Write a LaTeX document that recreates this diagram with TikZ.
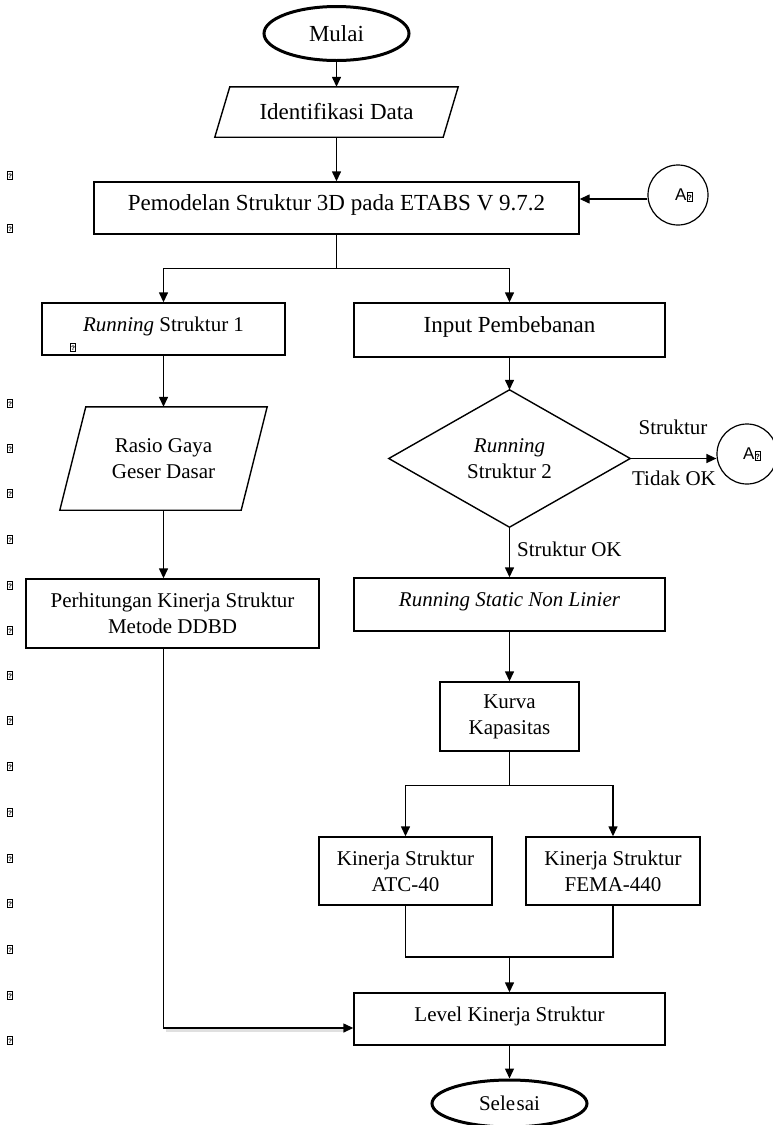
\documentclass[tikz,border=0pt]{standalone}
\usepackage{fontspec}
\setmainfont{Liberation Serif}
\newfontfamily\sansA{Liberation Sans}
\usetikzlibrary{arrows.meta,shapes.geometric}
\newcommand{\qbox}[1]{{\sansA\bfseries\setlength{\fboxsep}{0.2pt}\setlength{\fboxrule}{0.6pt}\fbox{\fontsize{#1}{#1}\selectfont\rule{0pt}{1.05em}?}}}
\begin{document}
\begin{tikzpicture}[x=1pt,y=-1pt,
  every node/.style={font=\fontsize{21}{26}\selectfont, inner sep=0pt},
  big/.style={font=\fontsize{23}{27}\selectfont},
  box/.style={draw, line width=1.4pt, align=center},
  one/.style={text height=15pt, text depth=11pt},
  term/.style={ellipse, draw, line width=3pt},
  con/.style={circle, draw, line width=1.2pt, minimum size=60pt, font=\sansA\fontsize{17}{17}\selectfont},
  conn/.style={line width=1.4pt},
  arr/.style={line width=1.4pt, -{Triangle[length=10pt,width=9pt]}},
  lbl/.style={font=\fontsize{21}{26}\selectfont}
]
\useasboundingbox (0,0) rectangle (773,1125);

% left column of missing-glyph marks
\foreach \yy [count=\i] in {175,228.5,403.5,448.5,493.5,539.5,585.5,630.5,675.5,720.5,766.5,812.5,858.5,903.5,949.5,995.5,1040.5}
  \node (q\i) at (10,\yy) {\qbox{6.5}};

% start
\node[term, big, minimum width=145pt, minimum height=54pt] (start) at (336.5,33.5) {Mulai};

% identifikasi data (parallelogram)
\node[big, minimum width=228pt, minimum height=50pt] (ident) at (336.5,112) {Identifikasi Data};
\draw[conn] ([xshift=7.5pt]ident.north west) -- ([xshift=7.5pt]ident.north east)
  -- ([xshift=-7.5pt]ident.south east) -- ([xshift=-7.5pt]ident.south west) -- cycle;
\draw[arr] (start.south) -- (ident.north);

% pemodelan
\node[box, big, one, minimum width=485pt, minimum height=52pt] (model) at (336.5,208) {Pemodelan Struktur 3D pada ETABS V 9.7.2};
\draw[arr] (ident.south) -- (model.north);

% connector A (top)
\node[con] (a1) at (678,195) {\kern12pt A\qbox{7.5}};
\draw[arr] ([yshift=-4pt]a1.west) -- ([yshift=-4pt]a1.west -| model.east);

% running struktur 1
\node[box, one, minimum width=243pt, minimum height=52pt] (run1) at (163.5,329) {\textit{Running} Struktur 1};
\node (qin) at (73,347) {\qbox{6.5}};

% input pembebanan
\node[box, big, one, minimum width=311pt, minimum height=54pt] (input) at (509.5,330) {Input Pembebanan};

% branch
\coordinate (b1) at ([yshift=-34pt]model.south);
\draw[conn] (model.south) -- (b1);
\draw[arr] (b1) -| (run1.north);
\draw[arr] (b1) -| (input.north);

% rasio gaya geser dasar (parallelogram)
\node[minimum width=181pt, minimum height=103pt, align=center] (rasio) at (163.5,458.5) {Rasio Gaya\\Geser Dasar};
\draw[conn] ([xshift=13pt]rasio.north west) -- ([xshift=13pt]rasio.north east)
  -- ([xshift=-13pt]rasio.south east) -- ([xshift=-13pt]rasio.south west) -- cycle;
\draw[arr] (run1.south) -- (rasio.north);

% perhitungan
\node[box, minimum width=293pt, minimum height=69pt] (perh) at (172.5,613.5) {Perhitungan Kinerja Struktur\\Metode DDBD};
\draw[arr] (rasio.south) -- (rasio.south |- perh.north);

% decision
\node[minimum width=241pt, minimum height=137pt, align=center] (dec) at (509.5,458.5) {\textit{Running}\\Struktur 2};
\draw[conn] (dec.north) -- (dec.east) -- (dec.south) -- (dec.west) -- cycle;
\draw[arr] (input.south) -- (dec.north);

% connector A (right)
\node[con] (a2) at (747,454) {\kern10pt A\qbox{7.5}};
\draw[arr] (dec.east) -- (dec.east -| a2.west);
\node[lbl] (lt1) at (673,427) {Struktur};
\node[lbl] (lt2) at (674,478) {Tidak OK};

% running static
\node[box, one, minimum width=311pt, minimum height=53pt] (static) at (509.5,604.5) {\textit{Running Static Non Linier}};
\draw[arr] (dec.south) -- (static.north);
\node[lbl, anchor=west] (lok) at (517,549) {Struktur OK};

% kurva kapasitas
\node[box, minimum width=139pt, minimum height=69pt] (kurva) at (509.5,716.5) {Kurva\\Kapasitas};
\draw[arr] (static.south) -- (kurva.north);

% kinerja boxes
\node[box, minimum width=173pt, minimum height=68pt] (atc) at (405.5,871) {Kinerja Struktur\\ATC-40};
\node[box, minimum width=174pt, minimum height=68pt] (fema) at (613,871) {Kinerja Struktur\\FEMA-440};
\coordinate (b2) at ([yshift=-34pt]kurva.south);
\draw[conn] (kurva.south) -- (b2);
\draw[arr] (b2) -| (atc.north);
\draw[arr] (b2) -| (fema.north);

% level kinerja
\node[box, one, minimum width=311pt, minimum height=52pt] (level) at (509.5,1019) {Level Kinerja Struktur};
\coordinate (m) at (509.5,957);
\draw[conn] (atc.south) |- (m) -| (fema.south);
\draw[arr] (m) -- (level.north);

% left connector with soft shadow under the horizontal run
\coordinate (lin) at ([yshift=-9pt]level.west);
\draw[black!12, line width=3pt, transform canvas={yshift=-2.5pt}] ([xshift=2pt]rasio.south |- lin) -- ([xshift=-10pt]lin);
\draw[arr] (rasio.south |- perh.south) |- (lin);

% end
\node[term, minimum width=155pt, minimum height=47pt] (finish) at (509.5,1103.5) {Sele\kern1.5pt sai};
\draw[arr] (level.south) -- (finish.north);
\end{tikzpicture}
\end{document}
